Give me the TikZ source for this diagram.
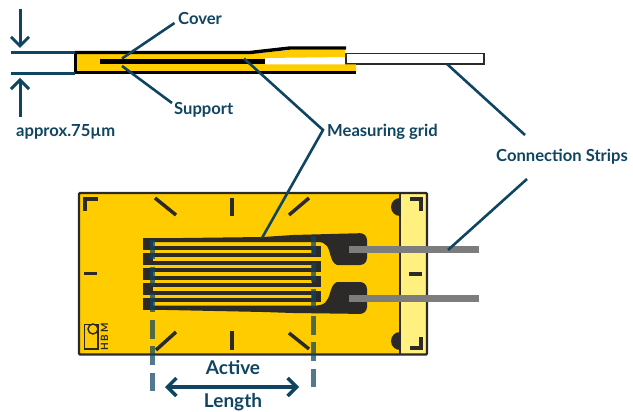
\documentclass[tikz,border=0pt]{standalone}
\usepackage{xcolor}
\usepackage{fontspec}
\setmainfont{Lato}
\usetikzlibrary{arrows.meta}
\definecolor{navy}{RGB}{15,69,97}
\definecolor{foil}{RGB}{255,204,0}
\definecolor{solder}{RGB}{255,240,128}
\definecolor{track}{RGB}{43,42,41}
\definecolor{wire}{RGB}{125,125,125}

\begin{document}
\begin{tikzpicture}[
    x=1pt, y=-1pt,
    caption/.style={text=navy, font=\fontsize{16.6}{18}\selectfont\bfseries, inner sep=0pt},
    bigcaption/.style={text=navy, font=\fontsize{19}{21}\selectfont\bfseries, inner sep=0pt},
    leader/.style={draw=navy, line width=2.6pt},
    dimline/.style={draw=navy, line width=3pt, -{Straight Barb[length=9pt,width=18pt]}},
    gaugemark/.style={draw=track, line width=3.5pt},
    activeline/.style={draw=navy, draw opacity=0.72, line width=5pt, dash pattern=on 19pt off 7.5pt}
]
    \useasboundingbox (0,0) rectangle (633,412);

    % section at the top
    \draw[draw=track, line width=1.8pt, fill=white] (346,53.5) rectangle (484,64);
    \fill[foil] (76,54) -- (250,54) -- (290,50) -- (345,50) -- (345,57) -- (265,58)
        -- (265,64.5) -- (356,64.5) -- (356,72) -- (76,72) -- cycle;
    \fill[black] (100,59.5) rectangle (265,64.5);
    \draw[black, line width=3.4pt] (75,52.5) -- (250,52.5) -- (290,48) -- (346,48);
    \draw[black, line width=3pt] (75.5,52) -- (75.5,73);
    \draw[black, line width=3pt] (74,73) -- (356,73);

    \coordinate (topa) at (11,52.5);
    \coordinate (topb) at (75,52.5);
    \coordinate (lowa) at (11,73.5);
    \coordinate (lowb) at (75,73.5);
    \draw[leader] (topa) -- (topb);
    \draw[leader] (lowa) -- (lowb);
    \coordinate (downfrom) at (20,9);
    \coordinate (downto) at (20,48);
    \coordinate (upfrom) at (20,117);
    \coordinate (upto) at (20,78);
    \draw[dimline] (downfrom) -- (downto);
    \draw[dimline] (upfrom) -- (upto);

    % gauge body
    \fill[foil] (79,193) rectangle (400,354.5);
    \fill[solder] (400,193) rectangle (427,354.5);
    \fill[track] (400,216) arc (90:270:9);
    \fill[track] (400,350) arc (90:270:9);
    \draw[track, line width=2pt] (400,193) -- (400,354.5);
    \draw[track, line width=2.2pt, rounded corners=1pt] (79,193) rectangle (427,354.5);

    \draw[gaugemark] (85,211) -- (85,199) -- (98,199);
    \draw[gaugemark] (410,199) -- (421,199) -- (421,211);
    \draw[gaugemark] (410,348) -- (421,348) -- (421,337);
    \draw[gaugemark] (155,198) -- (176,215);
    \draw[gaugemark] (176,332) -- (156,350);
    \draw[gaugemark] (309,198) -- (289,215);
    \draw[gaugemark] (289,333) -- (309,349);
    \draw[gaugemark] (232,198) -- (232,216);
    \draw[gaugemark] (232,331) -- (232,350);
    \draw[gaugemark] (84,273.5) -- (97,273.5);
    \draw[gaugemark] (409,274) -- (422,274);

    % logo
    \draw[track, line width=1.2pt] (84.5,324.5) rectangle (98,349);
    \draw[track, line width=1.4pt, fill=foil] (93,329) circle (5);
    \node[text=track, font=\fontsize{10}{11}\selectfont\bfseries, rotate=90, inner sep=0pt] (hbm) at (104.5,337) {H\,B\,M};

    % measuring grid
    \foreach \row in {0,...,9}
        \fill[track] (143,{238+7.5*\row}) rectangle (321,{242+7.5*\row});
    \foreach \row in {0,...,4}
        \fill[track] (143,{238.5+15*\row}) rectangle (153,{249.5+15*\row});
    \foreach \row in {0,...,3}
        \fill[track] (312,{245.5+15*\row}) rectangle (321,{256.5+15*\row});
    \fill[track, rounded corners=7pt] (143,238.5) [sharp corners] -- (263,237) -- (293,235)
        [rounded corners=7pt] -- (367,233) -- (367,265) [sharp corners] -- (337,265)
        .. controls (330,262) and (331,252) .. (327,246)
        .. controls (325,243) and (322,242) .. (317,242) -- (143,242) -- cycle;
    \fill[track, rounded corners=7pt] (143,309.5) [sharp corners] -- (263,312) -- (293,313)
        [rounded corners=7pt] -- (367,314) -- (367,282) [sharp corners] -- (337,282)
        .. controls (330,285) and (331,295) .. (327,300)
        .. controls (325,304) and (322,305) .. (317,305.5) -- (143,305.5) -- cycle;
    \fill[wire] (349,246) rectangle (479,252.5);
    \fill[wire] (349,295) rectangle (479,301.5);

    % active length
    \coordinate (activea) at (152.5,240);
    \coordinate (activeb) at (152.5,391);
    \coordinate (activec) at (313,236);
    \coordinate (actived) at (313,387);
    \draw[activeline] (activea) -- (activeb);
    \draw[activeline] (activec) -- (actived);
    \coordinate (lengtha) at (165,387);
    \coordinate (lengthb) at (299,387);
    \draw[draw=navy, line width=3.4pt, {Straight Barb[length=9pt,width=18pt]}-{Straight Barb[length=9pt,width=18pt]}] (lengtha) -- (lengthb);

    % captions
    \node[caption, anchor=west] (cover) at (178,18) {Cover};
    \node[caption, anchor=west] (support) at (174,110) {Support};
    \node[caption, anchor=west] (approx) at (16,132) {approx.75µm};
    \node[caption, anchor=west] (grid) at (327,132) {Measuring grid};
    \node[caption, anchor=west] (strips) at (496,157) {Connection Strips};
    \node[bigcaption] (active) at (233,368) {Active};
    \node[bigcaption] (length) at (233,402) {Length};

    % leaders
    \coordinate (coverfrom) at (174.5,23);
    \coordinate (coverto) at (122,58.5);
    \coordinate (supportfrom) at (172,103);
    \coordinate (supportto) at (122,66);
    \coordinate (gridelbow) at (323,130);
    \coordinate (gridupper) at (244,58.5);
    \coordinate (gridlower) at (262,238);
    \coordinate (stripa) at (447,64);
    \coordinate (stripb) at (525,135);
    \coordinate (stripc) at (527,179);
    \coordinate (stripd) at (448,250);
    \draw[leader] (coverfrom) -- (coverto);
    \draw[leader] (supportfrom) -- (supportto);
    \draw[leader] (gridupper) -- (gridelbow) -- (gridlower);
    \draw[leader] (stripa) -- (stripb);
    \draw[leader] (stripc) -- (stripd);
\end{tikzpicture}
\end{document}
